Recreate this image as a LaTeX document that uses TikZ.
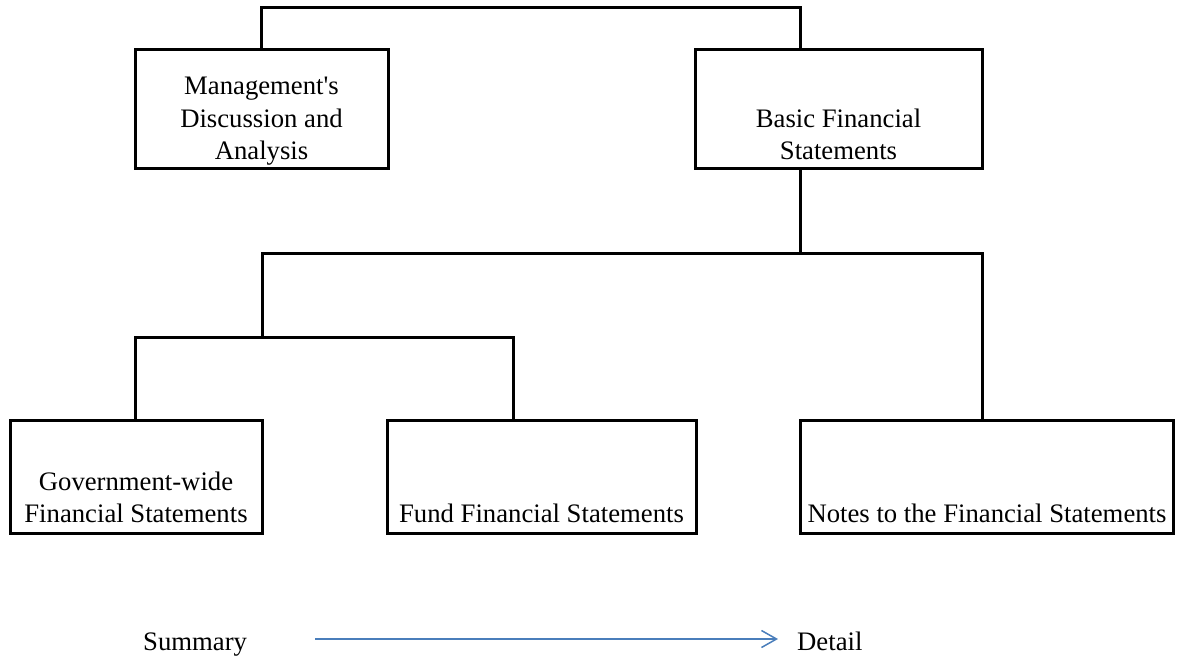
\documentclass[tikz,border=0pt]{standalone}
\usepackage{fontspec}
\setmainfont{Liberation Serif}[Ligatures=TeXOff]
\usetikzlibrary{arrows.meta}
\definecolor{arrowblue}{RGB}{74,126,187}
\tikzset{
  box/.style={draw=black, line width=3pt, rectangle, minimum height=#1, inner sep=0pt},
  conn/.style={draw=black, line width=3pt},
  lbl/.style={align=center, anchor=south, inner sep=0pt, text depth=0pt,
              font=\fontsize{26.7}{32.5}\selectfont},
  plain/.style={inner sep=0pt, font=\fontsize{26.7}{32.5}\selectfont},
  blueline/.style={draw=arrowblue, line width=1.5pt, -{Straight Barb[length=15pt,width=17pt,line width=1.5pt]}}
}
\begin{document}
\begin{tikzpicture}[x=1pt, y=-1pt]
\useasboundingbox (0,0) rectangle (1177,658);
% boxes
\node[box=118pt, minimum width=253pt] (b1) at (261.5,109) {};
\node[box=118pt, minimum width=287pt] (b2) at (838.5,109) {};
\node[box=113pt, minimum width=252pt] (b3) at (136,476.5) {};
\node[box=113pt, minimum width=309pt] (b4) at (541.5,476.5) {};
\node[box=113pt, minimum width=373pt] (b5) at (986.5,476.5) {};
% labels
\node[lbl] (t1) at (261.5,160) {Management's\\Discussion and\\Analysis};
\node[lbl] (t2) at (838.5,160) {Basic Financial\\Statements};
\node[lbl] (t3) at (136,523) {Government-wide\\Financial Statements};
\node[lbl] (t4) at (541.5,523) {Fund Financial Statements};
\node[lbl] (t5) at (987,523) {Notes to the Financial Statements};
% junction coordinates
\coordinate (topbar) at (530,8);
\coordinate (j1) at (800,253);
\coordinate (hl) at (262,253);
\coordinate (j5) at (982,253);
\coordinate (h2) at (262,337);
\coordinate (k3) at (135,337);
\coordinate (k4) at (513,337);
% connectors
\draw[conn] (b1.north) -- (b1.north |- topbar) -- (topbar -| j1) -- (b2.north -| j1);
\draw[conn] (b2.south -| j1) -- (j1);
\draw[conn] (b5.north -| j5) -- (j5) -- (hl) -- (h2);
\draw[conn] (b3.north -| k3) -- (k3) -- (k4) -- (b4.north -| k4);
% summary -> detail
\node[plain, anchor=base west] (sum) at (143,650) {Summary};
\node[plain, anchor=base west] (det) at (797,650) {Detail};
\coordinate (as) at (315,639);
\coordinate (ae) at (778,639);
\draw[blueline] (as) -- (ae);
\end{tikzpicture}
\end{document}
